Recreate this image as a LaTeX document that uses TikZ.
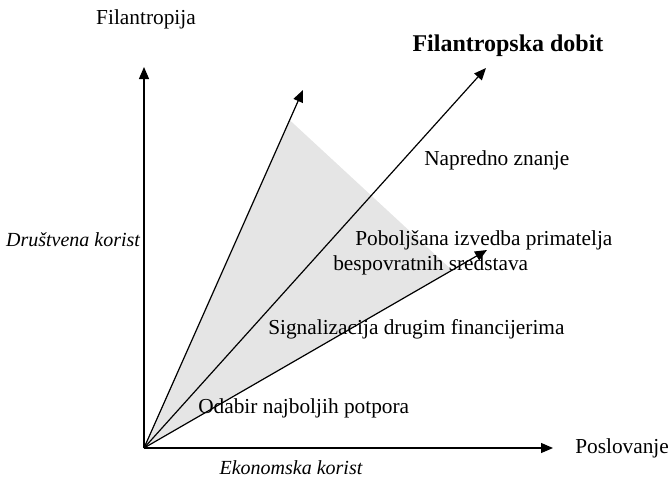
\documentclass[tikz,border=0pt]{standalone}
\usepackage{fontspec}
\setmainfont{Liberation Serif}
\usepackage{xcolor}
\usepackage{tikz}
\usetikzlibrary{arrows.meta, positioning, calc}

\begin{document}
\begin{tikzpicture}[
          x=0.75pt, y=-0.75pt,
          axis/.style={draw, line width=0.9pt, -{Triangle[length=9pt, width=7.5pt]}},
          every node/.style={inner sep=0pt, font=\fontsize{16}{19}\selectfont},
          side/.style={font=\fontsize{15}{18}\selectfont\itshape}
        ]
          \useasboundingbox (0,0) rectangle (672,480);

          % origin and arrow tips
          \coordinate (O) at (144,448);
          \coordinate (ytip) at (144,67);
          \coordinate (xtip) at (553,448);
          \coordinate (ltip) at (303,90);
          \coordinate (mtip) at (486,68);
          \coordinate (rtip) at (487,250);

          % shaded area between the outer arrows
          \fill[gray!20] (O) -- ($(O)!0.916!(ltip)$) -- ($(O)!0.898!(rtip)$) -- cycle;

          \draw[axis] (O) -- (ytip);
          \draw[axis] (O) -- (xtip);
          \draw[axis] (O) -- (ltip);
          \draw[axis] (O) -- (mtip);
          \draw[axis] (O) -- (rtip);

          \node (phil) at (146,19) {Filantropija};
          \node[anchor=west] (busi) at (575,448) {Poslovanje};
          \node[side] (soc) at (73,240) {Društvena korist};
          \node[side] (eco) at (291,468) {Ekonomska korist};
          \node[font=\fontsize{18}{21}\selectfont\bfseries] (gain) at (508,46) {Filantropska dobit};

          \node[anchor=west] (know) at (424,160) {Napredno znanje};
          \node[anchor=west] (perf) at (355,240) {Poboljšana izvedba primatelja};
          \node[anchor=west] (perf2) at (333,265) {bespovratnih sredstava};
          \node[anchor=west] (sig) at (268,329) {Signalizacija drugim financijerima};
          \node[anchor=west] (sel) at (198,408) {Odabir najboljih potpora};
        \end{tikzpicture}
\end{document}
